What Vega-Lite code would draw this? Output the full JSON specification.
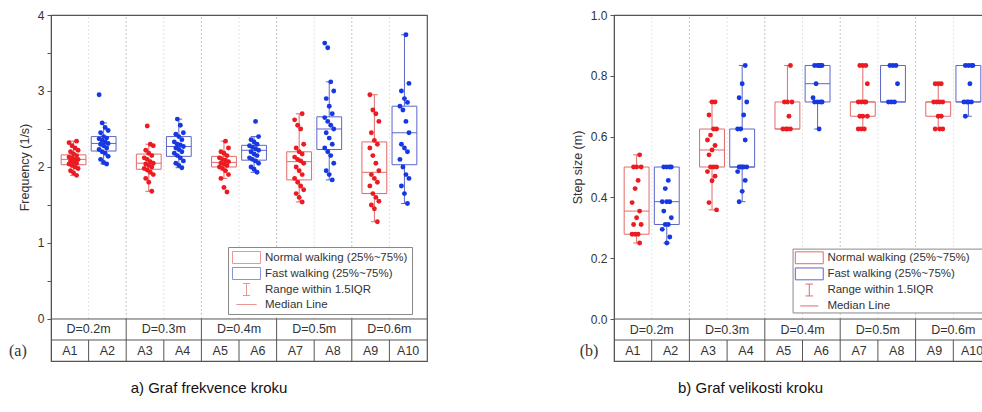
{
 "$schema": "https://vega.github.io/schema/vega-lite/v6.json",
 "padding": {"left": 8, "top": 8, "right": 0, "bottom": 0},
 "background": "white",
 "config": {"view": {"stroke": "#555", "strokeWidth": 1.2}, "font": "Liberation Sans"},
 "datasets": {
  "st": [
   {"p":"a","id":"A1","g":"D=0.2m","lo":1.89,"q1":2.03,"med":2.1,"q3":2.16,"hi":2.34},
   {"p":"a","id":"A2","g":"D=0.2m","lo":2.04,"q1":2.21,"med":2.31,"q3":2.40,"hi":2.58},
   {"p":"a","id":"A3","g":"D=0.3m","lo":1.68,"q1":1.97,"med":2.05,"q3":2.17,"hi":2.3},
   {"p":"a","id":"A4","g":"D=0.3m","lo":1.99,"q1":2.14,"med":2.27,"q3":2.40,"hi":2.63},
   {"p":"a","id":"A5","g":"D=0.4m","lo":1.85,"q1":2.0,"med":2.06,"q3":2.14,"hi":2.34},
   {"p":"a","id":"A6","g":"D=0.4m","lo":1.93,"q1":2.09,"med":2.22,"q3":2.285,"hi":2.4},
   {"p":"a","id":"A7","g":"D=0.5m","lo":1.54,"q1":1.83,"med":2.07,"q3":2.2,"hi":2.7},
   {"p":"a","id":"A8","g":"D=0.5m","lo":1.83,"q1":2.23,"med":2.5,"q3":2.66,"hi":3.12},
   {"p":"a","id":"A9","g":"D=0.6m","lo":1.28,"q1":1.65,"med":1.93,"q3":2.33,"hi":2.95},
   {"p":"a","id":"A10","g":"D=0.6m","lo":1.52,"q1":2.03,"med":2.45,"q3":2.8,"hi":3.74},
   {"p":"b","id":"A1","g":"D=0.2m","lo":0.25,"q1":0.279,"med":0.355,"q3":0.5,"hi":0.54},
   {"p":"b","id":"A2","g":"D=0.2m","lo":0.25,"q1":0.311,"med":0.386,"q3":0.5,"hi":0.5},
   {"p":"b","id":"A3","g":"D=0.3m","lo":0.359,"q1":0.5,"med":0.556,"q3":0.625,"hi":0.714},
   {"p":"b","id":"A4","g":"D=0.3m","lo":0.386,"q1":0.5,"med":0.5,"q3":0.625,"hi":0.834},
   {"p":"b","id":"A5","g":"D=0.4m","lo":0.625,"q1":0.625,"med":0.625,"q3":0.714,"hi":0.834},
   {"p":"b","id":"A6","g":"D=0.4m","lo":0.625,"q1":0.714,"med":0.774,"q3":0.834,"hi":0.834},
   {"p":"b","id":"A7","g":"D=0.5m","lo":0.625,"q1":0.667,"med":0.714,"q3":0.714,"hi":0.834},
   {"p":"b","id":"A8","g":"D=0.5m","lo":0.714,"q1":0.714,"med":0.714,"q3":0.834,"hi":0.834},
   {"p":"b","id":"A9","g":"D=0.6m","lo":0.625,"q1":0.667,"med":0.714,"q3":0.714,"hi":0.774},
   {"p":"b","id":"A10","g":"D=0.6m","lo":0.667,"q1":0.714,"med":0.714,"q3":0.834,"hi":0.834}
  ],
  "pt": [
   {"p":"a","id":"A1","vs":[1.89,1.92,1.95,1.98,2.0,2.02,2.04,2.05,2.07,2.08,2.1,2.1,2.12,2.13,2.15,2.17,2.2,2.22,2.25,2.28,2.32,2.34]},
   {"p":"a","id":"A2","vs":[2.04,2.06,2.1,2.14,2.18,2.2,2.23,2.25,2.28,2.3,2.31,2.33,2.35,2.37,2.38,2.4,2.45,2.48,2.52,2.58,2.95]},
   {"p":"a","id":"A3","vs":[1.68,1.8,1.85,1.9,1.93,1.96,1.98,2.0,2.02,2.04,2.05,2.07,2.1,2.12,2.15,2.18,2.22,2.28,2.3,2.54]},
   {"p":"a","id":"A4","vs":[1.99,2.02,2.05,2.08,2.12,2.15,2.18,2.2,2.23,2.25,2.27,2.29,2.3,2.33,2.36,2.4,2.43,2.45,2.55,2.63]},
   {"p":"a","id":"A5","vs":[1.67,1.73,1.85,1.9,1.95,1.98,2.0,2.02,2.04,2.05,2.07,2.09,2.1,2.12,2.15,2.18,2.2,2.25,2.34]},
   {"p":"a","id":"A6","vs":[1.93,1.97,2.0,2.05,2.08,2.1,2.12,2.15,2.17,2.2,2.22,2.24,2.26,2.28,2.3,2.33,2.36,2.4,2.6]},
   {"p":"a","id":"A7","vs":[1.54,1.6,1.65,1.7,1.75,1.8,1.85,1.9,1.95,2.0,2.05,2.08,2.1,2.13,2.17,2.2,2.25,2.3,2.5,2.55,2.62,2.7]},
   {"p":"a","id":"A8","vs":[1.83,1.9,1.95,2.05,2.15,2.2,2.25,2.3,2.38,2.45,2.5,2.55,2.6,2.65,2.7,2.8,2.9,3.0,3.12,3.57,3.63]},
   {"p":"a","id":"A9","vs":[1.28,1.45,1.5,1.55,1.6,1.65,1.75,1.8,1.85,1.9,1.95,2.05,2.15,2.25,2.3,2.35,2.45,2.6,2.7,2.75,2.95]},
   {"p":"a","id":"A10","vs":[1.52,1.65,1.75,1.85,1.9,2.0,2.1,2.2,2.25,2.3,2.45,2.6,2.75,2.8,2.85,2.9,3.0,3.1,3.74]},
   {"p":"b","id":"A1","vs":[0.54,0.5,0.5,0.5,0.456,0.429,0.383,0.355,0.333,0.311,0.311,0.279,0.279,0.279,0.25]},
   {"p":"b","id":"A2","vs":[0.5,0.5,0.5,0.5,0.456,0.429,0.386,0.386,0.386,0.355,0.333,0.311,0.311,0.295,0.27,0.25]},
   {"p":"b","id":"A3","vs":[0.714,0.714,0.671,0.625,0.625,0.605,0.589,0.571,0.556,0.54,0.5,0.5,0.5,0.485,0.47,0.455,0.383,0.359]},
   {"p":"b","id":"A4","vs":[0.834,0.774,0.728,0.714,0.671,0.625,0.625,0.589,0.5,0.5,0.5,0.5,0.5,0.485,0.456,0.42,0.386]},
   {"p":"b","id":"A5","vs":[0.834,0.714,0.714,0.714,0.667,0.625,0.625,0.625,0.625]},
   {"p":"b","id":"A6","vs":[0.834,0.834,0.834,0.834,0.834,0.774,0.728,0.714,0.714,0.714,0.714,0.625]},
   {"p":"b","id":"A7","vs":[0.834,0.834,0.834,0.774,0.714,0.714,0.714,0.714,0.667,0.667,0.667,0.625,0.625,0.625]},
   {"p":"b","id":"A8","vs":[0.834,0.834,0.834,0.774,0.714,0.714,0.714]},
   {"p":"b","id":"A9","vs":[0.774,0.774,0.774,0.714,0.714,0.714,0.714,0.667,0.667,0.625,0.625,0.625]},
   {"p":"b","id":"A10","vs":[0.834,0.834,0.834,0.834,0.774,0.714,0.714,0.714,0.714,0.667]}
  ],
  "lg": [
   {"leg":"Normal walking (25%~75%)"},
   {"leg":"Fast walking (25%~75%)"},
   {"leg":"Range within 1.5IQR"},
   {"leg":"Median Line"}
  ],
  "one": [{"t":"(a)","u":"(b)"}]
 },
 "spacing": 141,
 "resolve": {"scale": {"shape": "independent", "stroke": "independent"}, "legend": {"shape": "independent", "stroke": "independent"}},
 "hconcat": [
  {
   "width": 376, "height": 346,
   "title": {"text": "a) Graf frekvence kroku", "orient": "bottom", "anchor": "middle", "dx": -30, "offset": 19, "fontSize": 15, "font": "Liberation Sans", "fontWeight": "normal", "color": "#111"},
   "layer": [
    {"data": {"name": "st"}, "transform": [{"filter": "datum.p=='a'"}, {"calculate": "toNumber(substring(datum.id,1))", "as": "i"}, {"calculate": "datum.i-0.5+(datum.i%2==1?0.1:-0.1)", "as": "xc"}],
     "mark": {"type": "rule", "strokeWidth": 1},
     "encoding": {"x": {"field": "xc", "type": "quantitative", "scale": {"domain": [0, 10], "nice": false, "zero": false}, "axis": null},
      "y": {"field": "lo", "type": "quantitative", "scale": {"domain": [-0.553, 4], "nice": false, "zero": false},
       "axis": {"values": [0,0.5,1,1.5,2,2.5,3,3.5,4], "labelExpr": "datum.value%1==0 ? format(datum.value,'d') : ''", "title": "Frequency (1/s)", "titleY": 152, "titlePadding": 6, "domainColor": "#555", "tickColor": "#555", "tickSize": 4, "labelFontSize": 12, "labelColor": "#333", "labelPadding": 3, "titleFontSize": 12.5, "titleFontWeight": "normal", "titleColor": "#333", "grid": false}},
      "y2": {"field": "hi"},
      "color": {"condition": {"test": "datum.i%2==1", "value": "#e36a6a"}, "value": "#5a66c8"}}},
    {"data": {"name": "st"}, "transform": [{"filter": "datum.p=='a'"}, {"calculate": "toNumber(substring(datum.id,1))", "as": "i"}, {"filter": "datum.i<10"}],
     "mark": {"type": "rule", "strokeDash": [2, 2], "strokeWidth": 1},
     "encoding": {"x": {"field": "i", "type": "quantitative", "axis": null},
      "y": {"datum": 0, "type": "quantitative"},
      "y2": {"datum": 4},
      "color": {"condition": {"test": "datum.i%2==0", "value": "#c4c4c4"}, "value": "#e4e4e4"}}},
    {"data": {"name": "st"}, "transform": [{"filter": "datum.p=='a'"}, {"calculate": "toNumber(substring(datum.id,1))", "as": "i"}, {"filter": "datum.i<10 && datum.i%2==0"}],
     "mark": {"type": "rule", "color": "#555", "strokeWidth": 1},
     "encoding": {"x": {"field": "i", "type": "quantitative", "axis": null},
      "y": {"datum": -0.553, "type": "quantitative"}, "y2": {"datum": 0}}},
    {"data": {"name": "st"}, "transform": [{"filter": "datum.p=='a'"}, {"calculate": "toNumber(substring(datum.id,1))", "as": "i"}, {"filter": "datum.i<10 && datum.i%2==1"}],
     "mark": {"type": "rule", "color": "#555", "strokeWidth": 1},
     "encoding": {"x": {"field": "i", "type": "quantitative", "axis": null},
      "y": {"datum": -0.553, "type": "quantitative"}, "y2": {"datum": -0.2765}}},
    {"data": {"name": "one"}, "mark": {"type": "rule", "color": "#555", "strokeWidth": 1}, "encoding": {"y": {"datum": 0, "type": "quantitative"}}},
    {"data": {"name": "one"}, "mark": {"type": "rule", "color": "#555", "strokeWidth": 1}, "encoding": {"y": {"datum": -0.2765, "type": "quantitative"}}},
    {"data": {"name": "st"}, "transform": [{"filter": "datum.p=='a'"}, {"calculate": "toNumber(substring(datum.id,1))", "as": "i"}, {"calculate": "datum.i-0.5+(datum.i%2==1?0.1:-0.1)", "as": "xc"}, {"calculate": "datum.xc-0.09", "as": "cl"}, {"calculate": "datum.xc+0.09", "as": "cr"}, {"fold": ["lo", "hi"], "as": ["k", "cv"]}],
     "mark": {"type": "rule", "strokeWidth": 1},
     "encoding": {"x": {"field": "cl", "type": "quantitative", "axis": null}, "x2": {"field": "cr"}, "y": {"field": "cv", "type": "quantitative"},
      "color": {"condition": {"test": "datum.i%2==1", "value": "#e36a6a"}, "value": "#5a66c8"}}},
    {"data": {"name": "st"}, "transform": [{"filter": "datum.p=='a'"}, {"calculate": "toNumber(substring(datum.id,1))", "as": "i"}, {"calculate": "datum.i-0.5+(datum.i%2==1?0.1:-0.1)", "as": "xc"}, {"calculate": "datum.xc-0.33", "as": "xl"}, {"calculate": "datum.xc+0.33", "as": "xr"}],
     "mark": {"type": "rect", "fill": "white", "strokeWidth": 1},
     "encoding": {"x": {"field": "xl", "type": "quantitative", "axis": null}, "x2": {"field": "xr"}, "y": {"field": "q1", "type": "quantitative"}, "y2": {"field": "q3"},
      "stroke": {"condition": {"test": "datum.i%2==1", "value": "#e36a6a"}, "value": "#5a66c8"}}},
    {"data": {"name": "st"}, "transform": [{"filter": "datum.p=='a'"}, {"calculate": "toNumber(substring(datum.id,1))", "as": "i"}, {"calculate": "datum.i-0.5+(datum.i%2==1?0.1:-0.1)", "as": "xc"}, {"calculate": "datum.xc-0.33", "as": "xl"}, {"calculate": "datum.xc+0.33", "as": "xr"}],
     "mark": {"type": "rule", "strokeWidth": 1},
     "encoding": {"x": {"field": "xl", "type": "quantitative", "axis": null}, "x2": {"field": "xr"}, "y": {"field": "med", "type": "quantitative"},
      "color": {"condition": {"test": "datum.i%2==1", "value": "#e36a6a"}, "value": "#5a66c8"}}},
    {"data": {"name": "pt"}, "transform": [{"filter": "datum.p=='a'"}, {"flatten": ["vs"], "as": ["v"]}, {"calculate": "toNumber(substring(datum.id,1))", "as": "i"}, {"window": [{"op": "row_number", "as": "rn"}], "groupby": ["id"]}, {"calculate": "datum.i-0.5+(datum.i%2==1?0.1:-0.1)+((datum.rn*5)%7-3)*0.04", "as": "xj"}],
     "mark": {"type": "circle", "size": 24, "opacity": 1},
     "encoding": {"x": {"field": "xj", "type": "quantitative", "axis": null},
      "y": {"field": "v", "type": "quantitative"},
      "color": {"condition": {"test": "datum.i%2==1", "value": "#ec1b22"}, "value": "#1638e2"}}},
    {"data": {"name": "st"}, "transform": [{"filter": "datum.p=='a'"}, {"calculate": "toNumber(substring(datum.id,1))-0.5", "as": "c"}, {"aggregate": [{"op": "mean", "field": "c", "as": "gc"}], "groupby": ["g"]}],
     "mark": {"type": "text", "fontSize": 12.5, "color": "#333", "baseline": "middle", "font": "Liberation Sans"},
     "encoding": {"x": {"field": "gc", "type": "quantitative", "axis": null}, "y": {"datum": -0.138, "type": "quantitative"}, "text": {"field": "g"}}},
    {"data": {"name": "st"}, "transform": [{"filter": "datum.p=='a'"}, {"calculate": "toNumber(substring(datum.id,1))-0.5", "as": "c"}],
     "mark": {"type": "text", "fontSize": 12.5, "color": "#333", "baseline": "middle", "font": "Liberation Sans"},
     "encoding": {"x": {"field": "c", "type": "quantitative", "axis": null}, "y": {"datum": -0.415, "type": "quantitative"}, "text": {"field": "id"}}},
    {"data": {"name": "one"},
     "mark": {"type": "text", "fontSize": 16, "font": "Liberation Serif", "color": "#333", "baseline": "middle"},
     "encoding": {"x": {"datum": -0.88, "type": "quantitative", "axis": null}, "y": {"datum": -0.415, "type": "quantitative"}, "text": {"field": "t"}}},
    {"data": {"name": "lg"},
     "mark": {"type": "point", "filled": false, "clip": true, "strokeWidth": 1.2},
     "encoding": {"x": {"datum": 5, "type": "quantitative", "axis": null}, "y": {"datum": -20, "type": "quantitative"},
      "shape": {"field": "leg", "type": "nominal", "scale": {"domain": ["Normal walking (25%~75%)", "Fast walking (25%~75%)", "Range within 1.5IQR", "Median Line"], "range": ["M-2.33,-1H2.33V1H-2.33Z", "M-2.33,-1H2.33V1H-2.33Z", "M0,-1V1M-0.6,-1H0.6M-0.6,1H0.6", "M-1.7,0H1.7"]},
       "legend": {"orient": "none", "legendX": 177, "legendY": 232, "direction": "vertical", "title": null, "strokeColor": "#888", "fillColor": "white", "padding": 4, "symbolSize": 144, "symbolOffset": 8, "labelOffset": 12, "labelFontSize": 11.5, "labelFont": "Liberation Sans", "labelColor": "#333", "rowPadding": -1, "symbolStrokeWidth": 1, "symbolFillColor": "transparent", "labelLimit": 300}},
      "stroke": {"field": "leg", "type": "nominal", "scale": {"domain": ["Normal walking (25%~75%)", "Fast walking (25%~75%)", "Range within 1.5IQR", "Median Line"], "range": ["#e36a6a", "#5a66c8", "#e36a6a", "#e36a6a"]},
       "legend": {"orient": "none", "legendX": 177, "legendY": 232, "direction": "vertical", "title": null, "strokeColor": "#888", "fillColor": "white", "padding": 4, "symbolSize": 144, "symbolOffset": 8, "labelOffset": 12, "labelFontSize": 11.5, "labelFont": "Liberation Sans", "labelColor": "#333", "rowPadding": -1, "symbolStrokeWidth": 1, "symbolFillColor": "transparent", "labelLimit": 300}}}}
   ]
  },
  {
   "width": 377, "height": 346,
   "title": {"text": "b) Graf velikosti kroku", "orient": "bottom", "anchor": "middle", "dx": -52, "offset": 19, "fontSize": 15, "font": "Liberation Sans", "fontWeight": "normal", "color": "#111"},
   "layer": [
    {"data": {"name": "st"}, "transform": [{"filter": "datum.p=='b'"}, {"calculate": "toNumber(substring(datum.id,1))", "as": "i"}, {"calculate": "datum.i-0.5+(datum.i%2==1?0.1:-0.1)", "as": "xc"}],
     "mark": {"type": "rule", "strokeWidth": 1},
     "encoding": {"x": {"field": "xc", "type": "quantitative", "scale": {"domain": [0, 10], "nice": false, "zero": false}, "axis": null},
      "y": {"field": "lo", "type": "quantitative", "scale": {"domain": [-0.138, 1], "nice": false, "zero": false},
       "axis": {"values": [0,0.1,0.2,0.3,0.4,0.5,0.6,0.7,0.8,0.9,1], "labelExpr": "round(datum.value*10)%2==0 ? format(datum.value,'.1f') : ''", "title": "Step size (m)", "titleY": 152, "titlePadding": 6, "domainColor": "#555", "tickColor": "#555", "tickSize": 4, "labelFontSize": 12, "labelColor": "#333", "labelPadding": 3, "titleFontSize": 12.5, "titleFontWeight": "normal", "titleColor": "#333", "grid": false}},
      "y2": {"field": "hi"},
      "color": {"condition": {"test": "datum.i%2==1", "value": "#e36a6a"}, "value": "#5a66c8"}}},
    {"data": {"name": "st"}, "transform": [{"filter": "datum.p=='b'"}, {"calculate": "toNumber(substring(datum.id,1))", "as": "i"}, {"filter": "datum.i<10"}],
     "mark": {"type": "rule", "strokeDash": [2, 2], "strokeWidth": 1},
     "encoding": {"x": {"field": "i", "type": "quantitative", "axis": null},
      "y": {"datum": 0, "type": "quantitative"},
      "y2": {"datum": 1},
      "color": {"condition": {"test": "datum.i%2==0", "value": "#c4c4c4"}, "value": "#e4e4e4"}}},
    {"data": {"name": "st"}, "transform": [{"filter": "datum.p=='b'"}, {"calculate": "toNumber(substring(datum.id,1))", "as": "i"}, {"filter": "datum.i<10 && datum.i%2==0"}],
     "mark": {"type": "rule", "color": "#555", "strokeWidth": 1},
     "encoding": {"x": {"field": "i", "type": "quantitative", "axis": null},
      "y": {"datum": -0.138, "type": "quantitative"}, "y2": {"datum": 0}}},
    {"data": {"name": "st"}, "transform": [{"filter": "datum.p=='b'"}, {"calculate": "toNumber(substring(datum.id,1))", "as": "i"}, {"filter": "datum.i<10 && datum.i%2==1"}],
     "mark": {"type": "rule", "color": "#555", "strokeWidth": 1},
     "encoding": {"x": {"field": "i", "type": "quantitative", "axis": null},
      "y": {"datum": -0.138, "type": "quantitative"}, "y2": {"datum": -0.069}}},
    {"data": {"name": "one"}, "mark": {"type": "rule", "color": "#555", "strokeWidth": 1}, "encoding": {"y": {"datum": 0, "type": "quantitative"}}},
    {"data": {"name": "one"}, "mark": {"type": "rule", "color": "#555", "strokeWidth": 1}, "encoding": {"y": {"datum": -0.069, "type": "quantitative"}}},
    {"data": {"name": "st"}, "transform": [{"filter": "datum.p=='b'"}, {"calculate": "toNumber(substring(datum.id,1))", "as": "i"}, {"calculate": "datum.i-0.5+(datum.i%2==1?0.1:-0.1)", "as": "xc"}, {"calculate": "datum.xc-0.09", "as": "cl"}, {"calculate": "datum.xc+0.09", "as": "cr"}, {"fold": ["lo", "hi"], "as": ["k", "cv"]}],
     "mark": {"type": "rule", "strokeWidth": 1},
     "encoding": {"x": {"field": "cl", "type": "quantitative", "axis": null}, "x2": {"field": "cr"}, "y": {"field": "cv", "type": "quantitative"},
      "color": {"condition": {"test": "datum.i%2==1", "value": "#e36a6a"}, "value": "#5a66c8"}}},
    {"data": {"name": "st"}, "transform": [{"filter": "datum.p=='b'"}, {"calculate": "toNumber(substring(datum.id,1))", "as": "i"}, {"calculate": "datum.i-0.5+(datum.i%2==1?0.1:-0.1)", "as": "xc"}, {"calculate": "datum.xc-0.33", "as": "xl"}, {"calculate": "datum.xc+0.33", "as": "xr"}],
     "mark": {"type": "rect", "fill": "white", "strokeWidth": 1},
     "encoding": {"x": {"field": "xl", "type": "quantitative", "axis": null}, "x2": {"field": "xr"}, "y": {"field": "q1", "type": "quantitative"}, "y2": {"field": "q3"},
      "stroke": {"condition": {"test": "datum.i%2==1", "value": "#e36a6a"}, "value": "#5a66c8"}}},
    {"data": {"name": "st"}, "transform": [{"filter": "datum.p=='b'"}, {"calculate": "toNumber(substring(datum.id,1))", "as": "i"}, {"calculate": "datum.i-0.5+(datum.i%2==1?0.1:-0.1)", "as": "xc"}, {"calculate": "datum.xc-0.33", "as": "xl"}, {"calculate": "datum.xc+0.33", "as": "xr"}],
     "mark": {"type": "rule", "strokeWidth": 1},
     "encoding": {"x": {"field": "xl", "type": "quantitative", "axis": null}, "x2": {"field": "xr"}, "y": {"field": "med", "type": "quantitative"},
      "color": {"condition": {"test": "datum.i%2==1", "value": "#e36a6a"}, "value": "#5a66c8"}}},
    {"data": {"name": "pt"}, "transform": [{"filter": "datum.p=='b'"}, {"flatten": ["vs"], "as": ["v"]}, {"calculate": "toNumber(substring(datum.id,1))", "as": "i"}, {"window": [{"op": "row_number", "as": "rn"}], "groupby": ["id"]}, {"calculate": "datum.i-0.5+(datum.i%2==1?0.1:-0.1)+((datum.rn*5)%7-3)*0.04", "as": "xj"}],
     "mark": {"type": "circle", "size": 24, "opacity": 1},
     "encoding": {"x": {"field": "xj", "type": "quantitative", "axis": null},
      "y": {"field": "v", "type": "quantitative"},
      "color": {"condition": {"test": "datum.i%2==1", "value": "#ec1b22"}, "value": "#1638e2"}}},
    {"data": {"name": "st"}, "transform": [{"filter": "datum.p=='b'"}, {"calculate": "toNumber(substring(datum.id,1))-0.5", "as": "c"}, {"aggregate": [{"op": "mean", "field": "c", "as": "gc"}], "groupby": ["g"]}],
     "mark": {"type": "text", "fontSize": 12.5, "color": "#333", "baseline": "middle", "font": "Liberation Sans"},
     "encoding": {"x": {"field": "gc", "type": "quantitative", "axis": null}, "y": {"datum": -0.0345, "type": "quantitative"}, "text": {"field": "g"}}},
    {"data": {"name": "st"}, "transform": [{"filter": "datum.p=='b'"}, {"calculate": "toNumber(substring(datum.id,1))-0.5", "as": "c"}],
     "mark": {"type": "text", "fontSize": 12.5, "color": "#333", "baseline": "middle", "font": "Liberation Sans"},
     "encoding": {"x": {"field": "c", "type": "quantitative", "axis": null}, "y": {"datum": -0.1036, "type": "quantitative"}, "text": {"field": "id"}}},
    {"data": {"name": "one"},
     "mark": {"type": "text", "fontSize": 16, "font": "Liberation Serif", "color": "#333", "baseline": "middle"},
     "encoding": {"x": {"datum": -0.66, "type": "quantitative", "axis": null}, "y": {"datum": -0.1036, "type": "quantitative"}, "text": {"field": "u"}}},
    {"data": {"name": "one"},
     "mark": {"type": "rect", "fill": "white", "stroke": "#888", "strokeWidth": 1},
     "encoding": {"x": {"datum": 4.75, "type": "quantitative", "axis": null}, "x2": {"datum": 10.2}, "y": {"datum": 0.02, "type": "quantitative"}, "y2": {"datum": 0.23}}},
    {"data": {"name": "one"},
     "mark": {"type": "rect", "fill": "white", "stroke": "#e36a6a", "strokeWidth": 1},
     "encoding": {"x": {"datum": 4.81, "type": "quantitative", "axis": null}, "x2": {"datum": 5.55}, "y": {"datum": 0.182, "type": "quantitative"}, "y2": {"datum": 0.221}}},
    {"data": {"name": "one"},
     "mark": {"type": "rect", "fill": "white", "stroke": "#5a66c8", "strokeWidth": 1},
     "encoding": {"x": {"datum": 4.81, "type": "quantitative", "axis": null}, "x2": {"datum": 5.55}, "y": {"datum": 0.129, "type": "quantitative"}, "y2": {"datum": 0.168}}},
    {"data": {"name": "one"},
     "mark": {"type": "rule", "color": "#e36a6a", "strokeWidth": 1},
     "encoding": {"x": {"datum": 5.18, "type": "quantitative", "axis": null}, "y": {"datum": 0.076, "type": "quantitative"}, "y2": {"datum": 0.115}}},
    {"data": {"name": "one"},
     "mark": {"type": "rule", "color": "#e36a6a", "strokeWidth": 1},
     "encoding": {"x": {"datum": 5.08, "type": "quantitative", "axis": null}, "x2": {"datum": 5.28}, "y": {"datum": 0.115, "type": "quantitative"}}},
    {"data": {"name": "one"},
     "mark": {"type": "rule", "color": "#e36a6a", "strokeWidth": 1},
     "encoding": {"x": {"datum": 5.08, "type": "quantitative", "axis": null}, "x2": {"datum": 5.28}, "y": {"datum": 0.076, "type": "quantitative"}}},
    {"data": {"name": "one"},
     "mark": {"type": "rule", "color": "#e36a6a", "strokeWidth": 1},
     "encoding": {"x": {"datum": 4.94, "type": "quantitative", "axis": null}, "x2": {"datum": 5.42}, "y": {"datum": 0.043, "type": "quantitative"}}},
    {"data": {"name": "one"},
     "mark": {"type": "text", "text": "Normal walking (25%~75%)", "align": "left", "baseline": "middle", "fontSize": 11.5, "font": "Liberation Sans", "color": "#333"},
     "encoding": {"x": {"datum": 5.66, "type": "quantitative", "axis": null}, "y": {"datum": 0.2015, "type": "quantitative"}}},
    {"data": {"name": "one"},
     "mark": {"type": "text", "text": "Fast walking (25%~75%)", "align": "left", "baseline": "middle", "fontSize": 11.5, "font": "Liberation Sans", "color": "#333"},
     "encoding": {"x": {"datum": 5.66, "type": "quantitative", "axis": null}, "y": {"datum": 0.1485, "type": "quantitative"}}},
    {"data": {"name": "one"},
     "mark": {"type": "text", "text": "Range within 1.5IQR", "align": "left", "baseline": "middle", "fontSize": 11.5, "font": "Liberation Sans", "color": "#333"},
     "encoding": {"x": {"datum": 5.66, "type": "quantitative", "axis": null}, "y": {"datum": 0.0955, "type": "quantitative"}}},
    {"data": {"name": "one"},
     "mark": {"type": "text", "text": "Median Line", "align": "left", "baseline": "middle", "fontSize": 11.5, "font": "Liberation Sans", "color": "#333"},
     "encoding": {"x": {"datum": 5.66, "type": "quantitative", "axis": null}, "y": {"datum": 0.043, "type": "quantitative"}}}
   ]
  }
 ]
}
